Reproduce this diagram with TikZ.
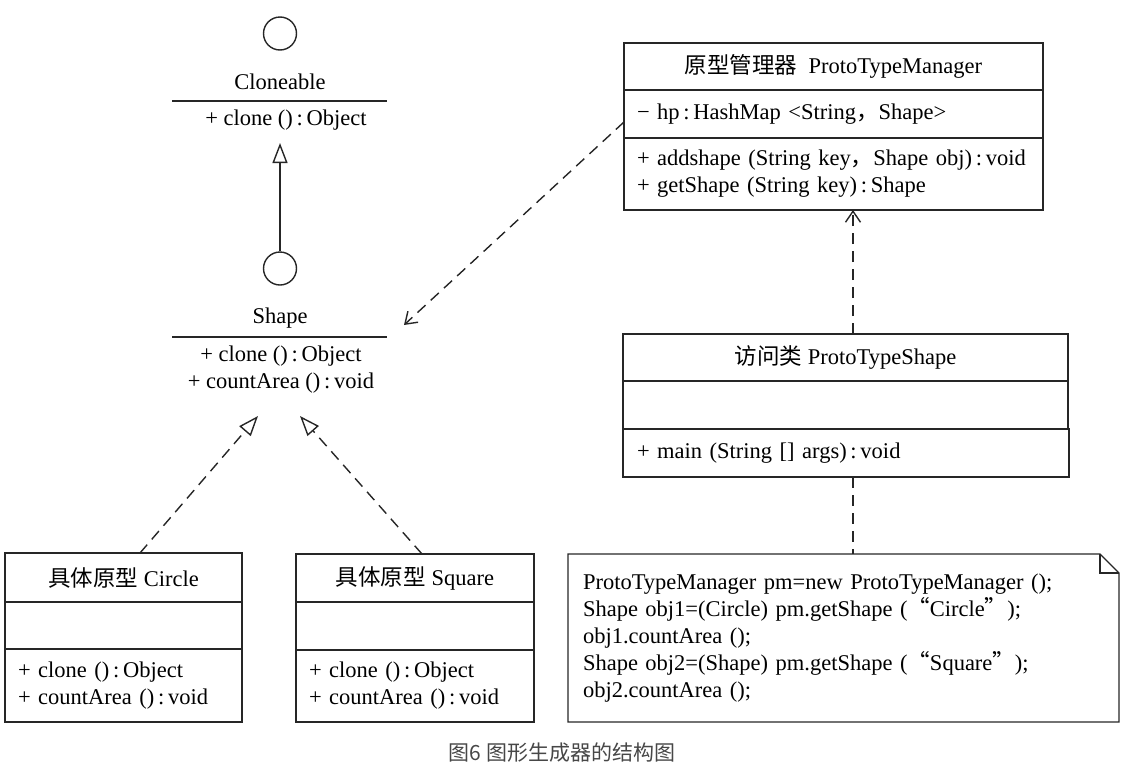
\documentclass[tikz,border=0pt]{standalone}
\usepackage{fontspec}
\setmainfont{Liberation Serif}
\newfontfamily\cjk{Noto Sans CJK SC}
\usetikzlibrary{arrows.meta}
\newcommand{\cl}{\thinspace:\thinspace}
\begin{document}
\begin{tikzpicture}[x=1pt,y=-1pt, line width=1.4pt, draw=black!85,
  font=\fontsize{22.5}{27}\selectfont,
  comp/.style={draw=black!85, rectangle, anchor=north west, inner sep=0pt, outer sep=0pt},
  lcomp/.style={comp, align=left, inner xsep=13pt},
  lbl/.style={inner sep=0pt},
  iface/.style={circle, draw=black!85, minimum size=33pt, inner sep=0pt},
  dsh/.style={dash pattern=on 11pt off 7pt},
  real/.style={-{Triangle[open,length=20pt,width=15pt]}},
  dep/.style={dsh, -{Straight Barb[length=11pt,width=15pt]}}]
\useasboundingbox (0,0) rectangle (1130,774);

% Cloneable interface
\node[iface] (clc) at (280,33.5) {};
\node[lbl] (cln) at (280,82) {Cloneable};
\draw (172,101) -- (387,101);
\node[lbl] (clm) at (286,120) {+ clone ()\cl Object};
\coordinate (clTip) at (280,143);

% Shape interface
\node[iface] (shc) at (280,268.5) {};
\node[lbl] (shn) at (280,318) {Shape};
\draw (172,337) -- (387,337);
\node[lbl, align=center] (shm) at (281,369.5) {+ clone ()\cl Object\\+ countArea ()\cl void};
\coordinate (shTip) at (404,325);
\coordinate (shTipL) at (258,416);
\coordinate (shTipR) at (300,416);

% Circle class
\node[comp, minimum width=237pt, minimum height=49pt] (circT) at (5,553) {{\cjk 具体原型} Circle};
\node[comp, minimum width=237pt, minimum height=47pt] (circA) at (5,602) {};
\node[lcomp, minimum width=237pt, minimum height=73pt, text width=211pt] (circM) at (5,649) {+ clone ()\cl Object\\+ countArea ()\cl void};

% Square class
\node[comp, minimum width=238pt, minimum height=48pt] (sqT) at (296,554) {{\cjk 具体原型} Square};
\node[comp, minimum width=238pt, minimum height=48pt] (sqA) at (296,602) {};
\node[lcomp, minimum width=238pt, minimum height=72pt, text width=212pt] (sqM) at (296,650) {+ clone ()\cl Object\\+ countArea ()\cl void};

% Manager class
\node[comp, minimum width=419pt, minimum height=47pt] (mgrT) at (624,43) {{\cjk 原型管理器}\enspace ProtoTypeManager};
\node[lcomp, minimum width=419pt, minimum height=48pt, text width=393pt] (mgrA) at (624,90) {− hp\cl HashMap <String{\cjk ，}Shape>};
\node[lcomp, minimum width=419pt, minimum height=72pt, text width=393pt] (mgrM) at (624,138) {+ addshape (String key{\cjk ，}Shape obj)\cl void\\+ getShape (String key)\cl Shape};

% ProtoTypeShape class
\node[comp, minimum width=445pt, minimum height=47pt] (ptsT) at (623,334) {{\cjk 访问类} ProtoTypeShape};
\node[comp, minimum width=445pt, minimum height=48pt] (ptsA) at (623,381) {};
\node[lcomp, minimum width=445pt, minimum height=48pt, text width=418pt, inner xsep=14pt] (ptsM) at (623,429) {+ main (String [] args)\cl void};

% Note
\node[anchor=north west, inner xsep=15pt, inner ysep=0pt, minimum width=551pt, minimum height=168pt, text width=521pt, align=left, outer sep=0pt] (note) at (568,554)
 {ProtoTypeManager pm=new ProtoTypeManager ();\\
  Shape obj1=(Circle) pm.getShape ({\cjk “}Circle{\cjk ”});\\
  obj1.countArea ();\\
  Shape obj2=(Shape) pm.getShape ({\cjk “}Square{\cjk ”});\\
  obj2.countArea ();};
\draw (note.north west) -- ([xshift=-19pt]note.north east) -- ([yshift=-19pt]note.north east) -- (note.south east) -- (note.south west) -- cycle;
\draw ([xshift=-19pt]note.north east) |- ([yshift=-19pt]note.north east);

% connectors
\coordinate (cx) at (853,0);
\draw[real] (shc.north) -- (clTip);
\draw[dsh, real] ([xshift=16.5pt]circT.north) -- (shTipL);
\draw[dsh, real] ([xshift=7pt]sqT.north) -- (shTipR);
\draw[dep] ([yshift=-8pt]mgrA.west) -- (shTip);
\draw[dep] (ptsT.north -| cx) -- (mgrM.south -| cx);
\draw[dsh] (ptsM.south -| cx) -- (note.north -| cx);

% caption
\node[lbl, font=\cjk\fontsize{21}{24}\selectfont, text=black!72] (cap) at (562,753) {图6 图形生成器的结构图};
\end{tikzpicture}
\end{document}
